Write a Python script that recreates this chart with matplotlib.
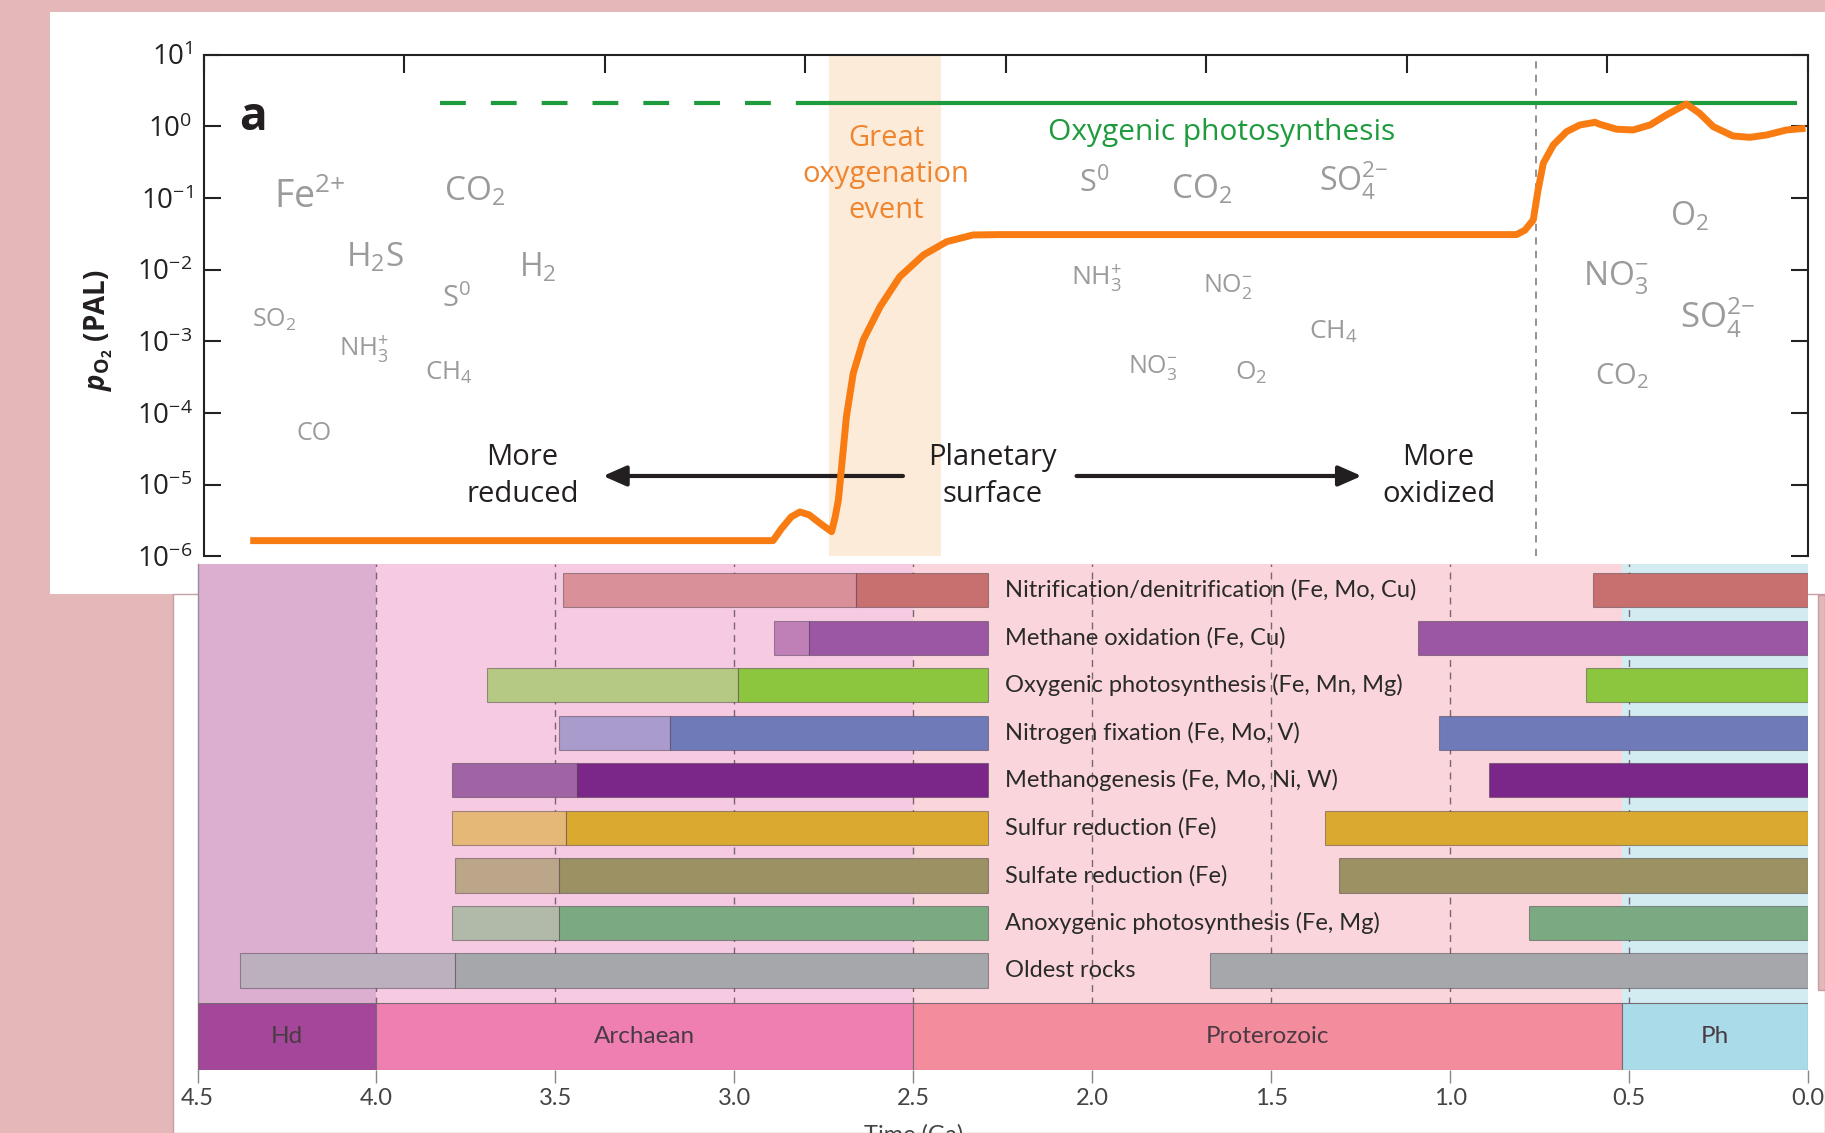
import numpy as np
import matplotlib
matplotlib.use('Agg')
import matplotlib.pyplot as plt
from matplotlib.patches import Rectangle

plt.rcParams['font.family'] = ['Open Sans', 'DejaVu Sans']
plt.rcParams['mathtext.fontset'] = 'custom'
plt.rcParams['mathtext.rm'] = 'Open Sans'
plt.rcParams['mathtext.it'] = 'Open Sans:italic'
plt.rcParams['mathtext.bf'] = 'Open Sans:bold'
plt.rcParams['mathtext.bfit'] = 'Open Sans:italic:bold'

# ---------------- data: panel a (pO2 history) ----------------
o2_age = [3.884, 2.580, 2.560, 2.535, 2.513, 2.490, 2.460, 2.434, 2.425, 2.417,
          2.409, 2.397, 2.380, 2.355, 2.313, 2.264, 2.205, 2.147, 2.081, 2.014,
          0.760, 0.726, 0.705, 0.684, 0.672, 0.659, 0.634, 0.601, 0.568, 0.530,
          0.518, 0.476, 0.435, 0.393, 0.352, 0.302, 0.269, 0.235, 0.186, 0.144,
          0.102, 0.052, 0.005]
o2_logp = [-5.78, -5.78, -5.62, -5.45, -5.38, -5.42, -5.55, -5.655, -5.45, -5.21,
           -4.75, -4.05, -3.445, -2.98, -2.516, -2.098, -1.795, -1.609, -1.515, -1.51,
           -1.51, -1.51, -1.45, -1.306, -0.888, -0.515, -0.26, -0.074, 0.019, 0.057,
           0.029, -0.04, -0.05, 0.019, 0.159, 0.312, 0.182, -0.004, -0.134, -0.153,
           -0.12, -0.05, -0.027]

photo_dashed_age = [3.41, 2.52]
photo_solid_age = [2.52, 0.027]
photo_level = 2.1

goe_age = [2.44, 2.16]
noe_line_age = 0.676

species_labels = [r'Fe$^{2{+}}$', r'CO$_2$', r'H$_2$S', r'H$_2$', r'S$^0$', r'SO$_2$',
                  r'NH$_3^{{+}}$', r'CH$_4$', 'CO',
                  r'S$^0$', r'CO$_2$', r'SO$_4^{2{-}}$', r'NH$_3^{{+}}$', r'NO$_2^{{-}}$',
                  r'CH$_4$', r'NO$_3^{{-}}$', r'O$_2$',
                  r'O$_2$', r'NO$_3^{{-}}$', r'SO$_4^{2{-}}$', r'CO$_2$']
species_age = [3.736, 3.324, 3.573, 3.167, 3.370, 3.823, 3.600, 3.388, 3.724,
               1.780, 1.510, 1.132, 1.774, 1.446, 1.182, 1.632, 1.388,
               0.294, 0.479, 0.224, 0.462]
species_logp = [-1.0, -0.916, -1.842, -1.972, -2.409, -2.70, -3.125, -3.433, -4.292,
                -0.786, -0.884, -0.754, -2.134, -2.232, -2.865, -3.369, -3.433,
                -1.258, -2.102, -2.67, -3.482]
species_size = [27, 24, 24, 23, 21, 18, 18.5, 18.5, 18,
                22, 24, 23, 19, 18, 19, 18, 19,
                23, 24, 25, 21]

# ---------------- data: metabolisms ----------------
metabolisms = ['Nitrification/denitrification (Fe, Mo, Cu)',
               'Methane oxidation (Fe, Cu)',
               'Oxygenic photosynthesis (Fe, Mn, Mg)',
               'Nitrogen fixation (Fe, Mo, V)',
               'Methanogenesis (Fe, Mo, Ni, W)',
               'Sulfur reduction (Fe)',
               'Sulfate reduction (Fe)',
               'Anoxygenic photosynthesis (Fe, Mg)',
               'Oldest rocks']
early_start = [3.48, 2.89, 3.69, 3.49, 3.79, 3.79, 3.78, 3.79, 4.38]
confirmed_start = [2.66, 2.79, 2.99, 3.18, 3.44, 3.47, 3.49, 3.49, 3.78]
break_age = 2.29
resume_age = [0.60, 1.09, 0.62, 1.03, 0.89, 1.35, 1.31, 0.78, 1.67]
dark_colors = ['#C87070', '#9B57A3', '#8CC63F', '#6F7AB9', '#7B2689',
               '#DAAA30', '#9C9163', '#7BAA82', '#A6A7AB']
light_colors = ['#D99098', '#BF80B8', '#B5C982', '#A99BCB', '#A064A4',
                '#E6B877', '#BBA68A', '#B1BAA8', '#BCAFBE']

eons = ['Hd', 'Archaean', 'Proterozoic', 'Ph']
eon_start = [4.5, 4.0, 2.5, 0.52]
eon_end = [4.0, 2.5, 0.52, 0.0]
eon_colors = ['#A4469A', '#EF7FB1', '#F38C9C', '#A9DCE8']
eon_bg = ['#DCAFD1', '#F6CBE2', '#FAD6DC', '#D3ECF1']
time_ticks = [4.5, 4.0, 3.5, 3.0, 2.5, 2.0, 1.5, 1.0, 0.5, 0.0]
grid_ages = [4.0, 3.5, 3.0, 2.5, 2.0, 1.5, 1.0, 0.5]

# ---------------- figure ----------------
W, H = 1825, 1133
fig = plt.figure(figsize=(W / 100, H / 100), dpi=100, facecolor='#E4B8B8')


def frect(x0, y0, x1, y1):
    return (x0 / W, 1 - y1 / H), (x1 - x0) / W, (y1 - y0) / H


for (x0, y0, x1, y1, fc, ec) in [(50, 12, 1825, 594, 'white', 'none'),
                                 (173, 594, 1825, 1133, 'white', '#C79DA5'),
                                 (1818, 595, 1825, 990, '#E4B8B8', '#C79DA5')]:
    xy, w, h = frect(x0, y0, x1, y1)
    fig.add_artist(Rectangle(xy, w, h, transform=fig.transFigure, facecolor=fc,
                             edgecolor=ec, lw=1, zorder=-10))

# ---------------- panel a ----------------
ax = fig.add_axes([203.7 / W, 1 - 556.4 / H, (1807.5 - 203.7) / W, (556.4 - 54.7) / H])
ax.set_facecolor('none')
ax.set_yscale('log')
ax.set_ylim(1e-6, 1e1)
ax.set_xlim(4.0, 0.0)
ax.set_xticks(np.arange(4.0, -0.01, -0.5))
ax.xaxis.set_ticks_position('top')
ax.tick_params(axis='x', direction='in', length=13, width=1.5, color='#222',
               labeltop=False, labelbottom=False)
yt = [10.0 ** k for k in range(-6, 2)]
ax.set_yticks(yt)
ax.set_yticklabels([r'$10^{%d}$' % k for k in range(-6, 2)])
ax.yaxis.set_minor_locator(matplotlib.ticker.NullLocator())
ax.tick_params(axis='y', which='major', direction='in', length=12.5, width=1.5,
               color='#222', left=True, right=True, labelsize=20, labelcolor='#222', pad=8)
for s in ['top', 'left', 'right']:
    ax.spines[s].set_linewidth(1.5)
    ax.spines[s].set_color('#222')
ax.spines['bottom'].set_visible(False)

ax.axvspan(goe_age[0], goe_age[1], color='#FDEBD9', lw=0, zorder=0)
ax.axvline(noe_line_age, color='#8a8a8a', lw=1.3, ls=(0, (4, 3.5)), zorder=1)

ax.plot(photo_dashed_age, [photo_level] * 2, color='#1E9B3C', lw=3, ls=(0, (6.2, 6)),
        zorder=3)
ax.plot(photo_solid_age, [photo_level] * 2, color='#1E9B3C', lw=3, zorder=3,
        solid_capstyle='butt')
ax.plot(o2_age, 10 ** np.array(o2_logp), color='#F87C12', lw=5, zorder=4,
        solid_capstyle='butt', solid_joinstyle='round')

for lab, a, lp, fs in zip(species_labels, species_age, species_logp, species_size):
    ax.text(a, 10 ** lp, lab, fontsize=fs, color='#9B9B9B', ha='center', va='center')

ax.text(3.878, 10 ** 0.122, 'a', fontsize=33, fontweight='bold', color='#231F20',
        ha='center', va='center')
ax.text(2.298, 10 ** -0.673, 'Great\noxygenation\nevent', fontsize=21, color='#F08530',
        ha='center', va='center', linespacing=1.33)
ax.text(1.461, 10 ** -0.088, 'Oxygenic photosynthesis', fontsize=21.5, color='#1E9B3C',
        ha='center', va='center')

arrow_y = 10 ** -4.878
for txt, a in [('More\nreduced', 3.205), ('Planetary\nsurface', 2.032),
               ('More\noxidized', 0.92)]:
    ax.text(a, arrow_y, txt, fontsize=21, color='#231F20', ha='center', va='center',
            linespacing=1.33)
astyle = dict(arrowstyle='-|>,head_length=0.5,head_width=0.22', lw=3, color='#231F20',
              mutation_scale=28, shrinkA=0, shrinkB=0)
ax.annotate('', xy=(3.004, arrow_y), xytext=(2.256, arrow_y), arrowprops=astyle)
ax.annotate('', xy=(1.112, arrow_y), xytext=(1.823, arrow_y), arrowprops=astyle)

fig.text(99 / W, 1 - 330 / H, r'$\mathbfit{p}_{\mathbf{O_2}}$ (PAL)', rotation=90,
         fontsize=20, fontweight='bold', color='#231F20', ha='center', va='center')

# ---------------- metabolism panel ----------------
bx = fig.add_axes([197.5 / W, 62.6 / H, (1808 - 197.5) / W, (1070.4 - 563.8) / H])
bx.set_facecolor('none')
bx.set_xlim(4.5, 0.0)
bx.set_ylim(10.103, -0.558)

for s, e, c in zip(eon_start, eon_end, eon_bg):
    bx.axvspan(s, e, color=c, lw=0, zorder=0)
for g in grid_ages:
    bx.axvline(g, ymin=0.132, ymax=1, color='#5a4a56', lw=1.0, ls=(0, (5, 4)),
               alpha=0.8, zorder=1)

bar_h = 0.72
edge = (0.25, 0.2, 0.25, 0.45)
for i, name in enumerate(metabolisms):
    bx.barh(i, early_start[i] - confirmed_start[i], left=confirmed_start[i],
            height=bar_h, color=light_colors[i], edgecolor=edge, lw=0.8, zorder=2)
    bx.barh(i, confirmed_start[i] - break_age, left=break_age, height=bar_h,
            color=dark_colors[i], edgecolor=edge, lw=0.8, zorder=2)
    bx.barh(i, resume_age[i], left=0.0, height=bar_h, color=dark_colors[i],
            edgecolor=edge, lw=0.8, zorder=2)
    bx.text(2.245, i, name, fontsize=17, color='#2a2a2a', ha='left', va='center',
            family=['Lato', 'DejaVu Sans'], zorder=5)

eon_y = 9.399
eon_h = 1.408
for name, s, e, c in zip(eons, eon_start, eon_end, eon_colors):
    bx.barh(eon_y, s - e, left=e, height=eon_h, color=c, edgecolor='#7a6a75',
            lw=0.8, zorder=3)
    bx.text((s + e) / 2, eon_y, name, fontsize=17.5, color='#4a3a44', ha='center',
            va='center', family=['Lato', 'DejaVu Sans'], zorder=5)

bx.set_xticks(time_ticks)
bx.set_xticklabels(['%.1f' % t for t in time_ticks], family=['Lato', 'DejaVu Sans'])
bx.tick_params(axis='x', direction='out', length=9, width=1, color='#888888',
               labelsize=17, labelcolor='#444444', pad=4)
bx.set_yticks([])
for s in ['top', 'right', 'bottom']:
    bx.spines[s].set_visible(False)
bx.spines['left'].set_color('#9b8a98')
bx.spines['left'].set_linewidth(1)

fig.text(913.6 / W, 1 - 1124 / H, 'Time (Ga)', fontsize=17, color='#444444',
         ha='center', va='top', family=['Lato', 'DejaVu Sans'])

fig.savefig('out.png', dpi=100, facecolor=fig.get_facecolor())
